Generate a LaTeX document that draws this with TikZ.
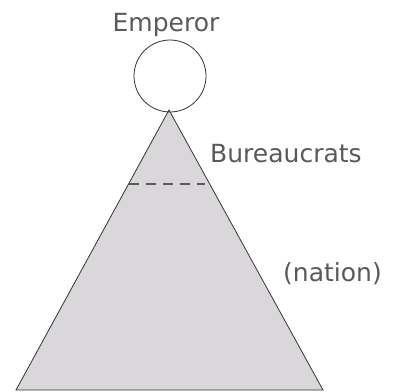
\documentclass[tikz,border=0pt]{standalone}
\usepackage{fontspec}
\setmainfont{DejaVu Sans}
\definecolor{tri}{HTML}{D9D7DA}
\definecolor{txt}{HTML}{595959}
\definecolor{dashcol}{HTML}{5A5A5A}
\begin{document}
\begin{tikzpicture}[x=1pt,y=-1pt,
  lbl/.style={text=txt,font=\fontsize{25}{28}\selectfont,inner sep=0pt,anchor=base},
  edge/.style={draw=black!80,line width=0.8pt}]
\useasboundingbox (0,0) rectangle (393,391);
\coordinate (apex) at (169,110);
\coordinate (bl) at (16,390);
\coordinate (br) at (323,390);
\path[fill=tri,edge] (apex) -- (br) -- (bl) -- cycle;
\node[circle,edge,minimum size=72pt,inner sep=0pt] (emp) at (170,76) {};
\coordinate (dl) at (129,184);
\coordinate (dr) at (205,184);
\draw[dashcol,line width=2.6pt,dash pattern=on 10pt off 7pt] (dl) -- (dr);
\node[lbl] (t1) at (166,31) {Emperor};
\node[lbl,anchor=base west] (t2) at (210,162) {Bureaucrats};
\node[lbl,anchor=base west] (t3) at (283,281) {(nation)};
\end{tikzpicture}
\end{document}
